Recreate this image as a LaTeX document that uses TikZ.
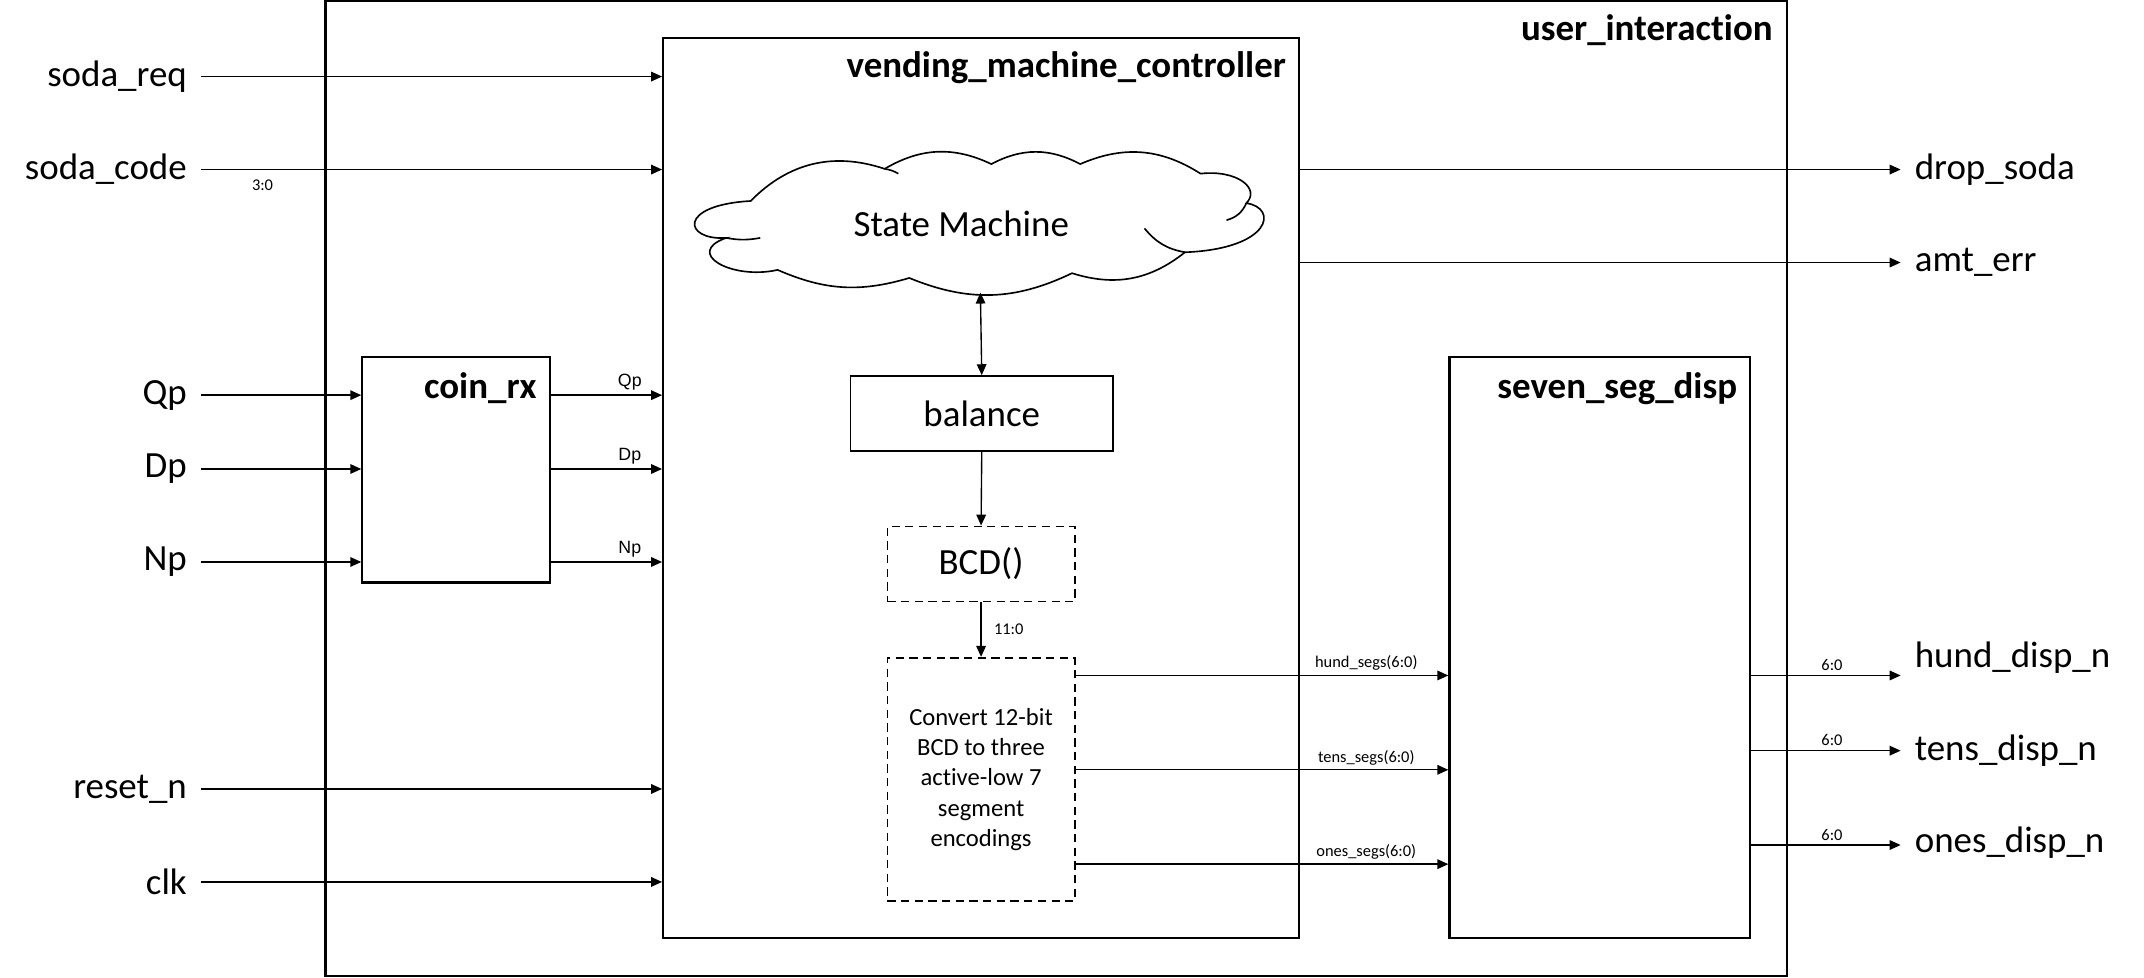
\documentclass[tikz,border=0pt]{standalone}
\usepackage{fontspec}
\setmainfont{Carlito}[Ligatures=NoCommon]
\newfontfamily\arialfont{Liberation Sans}
\usetikzlibrary{arrows.meta,positioning}

\begin{document}
\begin{tikzpicture}[x=0.5pt,y=-0.5pt,
    blk/.style={draw,line width=0.8pt,inner sep=0pt},
    fnbox/.style={draw,line width=0.6pt,dash pattern=on 3pt off 2pt,inner sep=0pt,font=\fontsize{13.5}{16}\selectfont},
    ttl/.style={font=\fontsize{13.5}{15}\selectfont\bfseries,anchor=east,inner sep=0pt},
    sig/.style={font=\fontsize{13.5}{16}\selectfont,inner xsep=5pt,inner ysep=0pt},
    bus/.style={font=\fontsize{6}{7}\selectfont,inner sep=1.5pt},
    pin/.style={font=\arialfont\fontsize{6.5}{7}\selectfont,inner sep=1.5pt},
    puff/.style={bend left=#1},
    arr/.style={line width=0.5pt,-{Triangle[length=4pt,width=3.5pt]}}]
  \useasboundingbox (0,0) rectangle (1568,715);
  % blocks
  \node[blk,minimum width=534.5pt,minimum height=356.5pt] (ui) at (772.5,357.5) {};
  \node[blk,minimum width=232.5pt,minimum height=329pt] (vmc) at (717.5,357) {};
  \node[blk,minimum width=68.5pt,minimum height=82.5pt] (coin) at (333.5,343.5) {};
  \node[blk,minimum width=110pt,minimum height=212.5pt] (ssd) at (1170,473.5) {};
  \node[ttl] at ([xshift=-5.5pt,yshift=-11pt]ui.north east) {user\_interaction};
  \node[ttl] at ([xshift=-5pt,yshift=-11pt]vmc.north east) {vending\_machine\_controller};
  \node[ttl] at ([xshift=-5pt,yshift=-12pt]coin.north east) {coin\_rx};
  \node[ttl] at ([xshift=-5pt,yshift=-12pt]ssd.north east) {seven\_seg\_disp};
  % state machine cloud
  \draw[line width=0.6pt] (549,147) to[puff=32] (647,123.5) to[puff=28] (725,120)
    to[puff=28] (790,120) to[puff=28] (878,127)
    .. controls (905,124) and (922,138) .. (911.5,148.6)
    .. controls (935,152) and (930,182) .. (866.6,184.5)
    to[puff=28] (784,199.8) to[puff=24] (665,203.3) to[puff=20] (568.7,197.4)
    .. controls (535,205) and (500,185) .. (531,174)
    .. controls (500,176) and (495,150) .. cycle;
  \draw[line width=0.6pt] (647,123.5) to[bend left=10] (657,127)
    (911.5,148.6) to[bend left=25] (897,161)
    (866.6,184.5) to[bend left=20] (837,167)
    (531,174) to[bend right=10] (556,174);
  \node[font=\fontsize{13.5}{16}\selectfont] (sm) at (703,164) {State Machine};
  \coordinate (smb) at (717,214);
  \node[blk,line width=0.6pt,minimum width=96pt,minimum height=27.5pt,
        font=\fontsize{13.5}{16}\selectfont] (bal) at (718,302.5) {balance};
  \node[fnbox,minimum width=68.5pt,minimum height=27.5pt] (bcd) at (717.5,412.5) {BCD()};
  \node[fnbox,minimum width=68.5pt,minimum height=89pt,align=center,
        font=\fontsize{9}{11.1}\selectfont] (conv) at (717.5,570)
        {Convert 12-bit\\BCD to three\\active-low 7\\segment\\encodings};
  \draw[line width=0.5pt,{Triangle[length=4pt,width=3.5pt]}-{Triangle[length=4pt,width=3.5pt]}] (smb) -- (bal.north);
  \draw[arr] (bal.south) -- (bcd.north);
  \draw[arr] (bcd.south) -- (conv.north) node[bus,right,midway,xshift=3pt] {11:0};
  % inputs
  \foreach \n/\t/\y in {req/soda\_req/56, code/soda\_code/124, rst/reset\_n/577, clk/clk/645}{
    \node[sig,anchor=east] (in\n) at (147,\y) {\t};
    \draw[arr] (in\n.east) -- (in\n.east -| vmc.west);
  }
  \node[bus,below] at (192,128) {3:0};
  \foreach \n/\y in {Q/289, D/343, N/411}{
    \node[sig,anchor=east] (in\n) at (147,\y) {\n p};
    \draw[arr] (in\n.east) -- (in\n.east -| coin.west);
    \draw[arr] (coin.east |- in\n.east) -- (in\n.east -| vmc.west) node[pin,above,pos=0.71] {\n p};
  }
  % controller outputs
  \foreach \n/\t/\y in {drop/drop\_soda/124, err/amt\_err/192}{
    \node[sig,anchor=west] (out\n) at (1390,\y) {\t};
    \draw[arr] (vmc.east |- out\n.west) -- (out\n.west);
  }
  \foreach \n/\y in {hund/494, tens/563, ones/632}
    \draw[arr] (conv.east |- 0,\y) -- (ssd.west |- 0,\y) node[bus,above,pos=0.78] {\n\_segs(6:0)};
  % display outputs
  \foreach \n/\y/\ty in {hund/494/481, tens/549/549, ones/618/616}{
    \node[sig,anchor=west] (\n) at (1390,\ty) {\n\_disp\_n};
    \draw[arr] (ssd.east |- 0,\y) -- (\n.west |- 0,\y) node[bus,above,pos=0.54] {6:0};
  }
\end{tikzpicture}
\end{document}
